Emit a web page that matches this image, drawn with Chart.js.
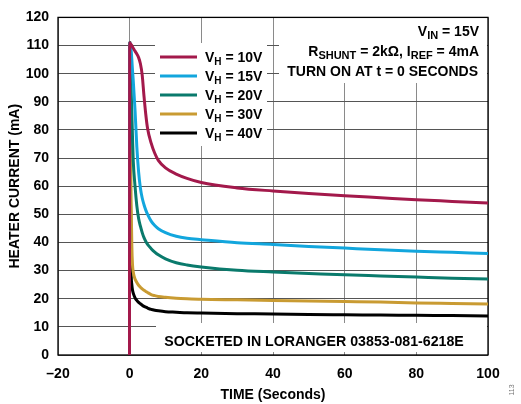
<!DOCTYPE html>
<html>
<head>
<meta charset="utf-8">
<script src="https://cdn.jsdelivr.net/npm/chart.js@4.4.1/dist/chart.umd.min.js"></script>
<style>
  html, body { margin: 0; padding: 0; background: #fff; }
  #wrap { position: relative; width: 521px; height: 404px; }
</style>
</head>
<body>
<div id="wrap"><canvas id="chart" width="521" height="404"></canvas></div>
<script>
// heater current vs time, one curve per heater voltage
const timeSec = [-0.05, 0, 0.2, 0.4, 0.6, 0.8, 1, 1.5, 2, 2.5, 3, 3.5, 4, 4.5, 5, 6, 7, 8, 10, 13, 16, 20, 30, 40, 50, 60, 70, 80, 90, 100];

const vh10 = [0, 111, 110.7, 110.3, 110, 109.5, 109, 108, 107, 105.7, 103.5, 99.5, 92, 85.5, 80.5, 75.3, 71.7, 69.2, 66.5, 64.3, 62.8, 61.3, 59.4, 58.3, 57.4, 56.6, 55.9, 55.2, 54.6, 54];
const vh15 = [0, 111, 110.5, 108.5, 105, 101, 97.5, 87, 74, 65, 59.3, 55.8, 53.4, 51.5, 50, 47.6, 46, 44.9, 43.5, 42.2, 41.5, 41, 39.9, 39.3, 38.6, 38, 37.4, 36.9, 36.5, 36.1];
const vh20 = [0, 111, 104, 95, 86, 77, 69, 60, 53, 48.5, 45.8, 43.5, 41.7, 40.4, 39.3, 37.8, 36.6, 35.6, 34.2, 32.8, 32, 31.3, 30.1, 29.5, 29, 28.5, 28.1, 27.7, 27.3, 27];
const vh30 = [0, 111, 85, 55, 39, 32, 29.5, 27, 25.8, 24.8, 24.1, 23.5, 23, 22.6, 22.2, 21.5, 21.1, 20.8, 20.5, 20.2, 20, 19.8, 19.6, 19.4, 19.2, 19, 18.8, 18.5, 18.3, 18.1];
const vh40 = [0, 111, 60, 30, 25, 23, 22, 20.3, 19.4, 18.7, 18.2, 17.7, 17.3, 17, 16.7, 16.2, 15.9, 15.7, 15.4, 15.2, 15, 14.9, 14.7, 14.6, 14.4, 14.3, 14.2, 14.1, 14, 13.9];

const seriesLabels = ['10V', '15V', '20V', '30V', '40V'];
const seriesColors = ['#a3194b', '#12a6dd', '#0a7a6c', '#c99b32', '#000000'];
const seriesValues = [vh10, vh15, vh20, vh30, vh40];

const xTicks = [-20, 0, 20, 40, 60, 80, 100];

const FONT = "'Liberation Sans', Arial, sans-serif";

// draw text with subscripts, parts: [[text, isSub], ...]
function subText(ctx, x, y, parts, align, subSize) {
    subSize = subSize || 10;
    let total = 0;
    parts.forEach(p => {
        ctx.font = 'bold ' + (p[1] ? subSize : 14) + 'px ' + FONT;
        total += ctx.measureText(p[0]).width;
    });
    let cx = align === 'right' ? x - total : x;
    parts.forEach(p => {
        ctx.font = 'bold ' + (p[1] ? subSize : 14) + 'px ' + FONT;
        ctx.fillText(p[0], cx, p[1] ? y + 4 : y);
        cx += ctx.measureText(p[0]).width;
    });
}

const overlayPlugin = {
    id: 'overlay',
    beforeDatasetsDraw(chart) {
        const ctx = chart.ctx;
        const a = chart.chartArea;
        ctx.save();
        // white boxes hiding the grid
        ctx.fillStyle = '#fff';
        ctx.fillRect(155, 43, 112, 103);
        ctx.fillRect(279, 18, a.right - 279 - 1, 65);
        ctx.fillRect(156, 323, a.right - 156 - 1, 29);

        // frame
        ctx.strokeStyle = '#000';
        ctx.lineWidth = 1.3;
        ctx.strokeRect(a.left, a.top, a.right - a.left, a.bottom - a.top);

        ctx.fillStyle = '#000';
        ctx.textBaseline = 'middle';

        // legend
        seriesLabels.forEach((lab, i) => {
            const y = 57 + i * 19;
            ctx.strokeStyle = seriesColors[i];
            ctx.lineWidth = 3;
            ctx.beginPath();
            ctx.moveTo(160, y);
            ctx.lineTo(197, y);
            ctx.stroke();
            ctx.fillStyle = '#000';
            subText(ctx, 205, y + 1, [['V', false], ['H', true], [' = ' + lab, false]]);
        });

        // conditions, right aligned
        const rx = 479;
        subText(ctx, rx, 32, [['V', false], ['IN', true], [' = 15V', false]], 'right', 11);
        subText(ctx, rx, 52, [['R', false], ['SHUNT', true], [' = 2k\u03A9, I', false], ['REF', true], [' = 4mA', false]], 'right', 11);
        ctx.font = 'bold 14px ' + FONT;
        ctx.textAlign = 'right';
        ctx.fillText('TURN ON AT t = 0 SECONDS', rx - 1, 72);

        ctx.textAlign = 'center';
        ctx.font = 'bold 14.2px ' + FONT;
        ctx.fillText('SOCKETED IN LORANGER 03853-081-6218E', 314, 342);
        ctx.restore();
    },
    afterDraw(chart) {
        const ctx = chart.ctx;
        ctx.save();
        ctx.translate(512, 390);
        ctx.rotate(-Math.PI / 2);
        ctx.font = '7px ' + FONT;
        ctx.fillStyle = '#777';
        ctx.textAlign = 'center';
        ctx.textBaseline = 'middle';
        ctx.fillText('113', 0, 0);
        ctx.restore();
    }
};

const datasets = seriesValues.map((vals, idx) => ({
    label: 'VH = ' + seriesLabels[idx],
    data: timeSec.map((t, j) => ({ x: t, y: vals[j] })),
    borderColor: seriesColors[idx],
    backgroundColor: seriesColors[idx],
    borderWidth: 3,
    pointRadius: 0,
    cubicInterpolationMode: 'monotone',
    fill: false
}));

new Chart(document.getElementById('chart'), {
    type: 'line',
    data: { datasets },
    options: {
        responsive: false,
        animation: false,
        layout: { padding: { left: 0, top: 12, right: 33, bottom: 0 } },
        plugins: {
            legend: { display: false },
            tooltip: { enabled: false }
        },
        scales: {
            x: {
                type: 'linear',
                min: -20,
                max: 100,
                afterBuildTicks: scale => { scale.ticks = xTicks.map(v => ({ value: v })); },
                afterFit: scale => { scale.height = 49; },
                grid: { color: '#8a8a8a', lineWidth: 1, drawTicks: false },
                border: { display: false },
                ticks: {
                    color: '#000',
                    padding: 11,
                    font: { family: FONT, size: 14, weight: 'bold' },
                    callback: v => (v < 0 ? '\u2013' + Math.abs(v) : String(v))
                },
                title: {
                    display: true,
                    text: 'TIME (Seconds)',
                    color: '#000',
                    font: { family: FONT, size: 14, weight: 'bold' },
                    padding: { top: 4, bottom: 0 }
                }
            },
            y: {
                min: 0,
                max: 120,
                afterFit: scale => { scale.width = 58; },
                grid: { color: '#555', lineWidth: 1, drawTicks: false },
                border: { display: false },
                ticks: {
                    stepSize: 10,
                    color: '#000',
                    padding: 9,
                    font: { family: FONT, size: 14, weight: 'bold' }
                },
                title: {
                    display: true,
                    text: 'HEATER CURRENT (mA)',
                    color: '#000',
                    font: { family: FONT, size: 14, weight: 'bold' },
                    padding: { top: 7, bottom: 0 }
                }
            }
        }
    },
    plugins: [overlayPlugin]
});
</script>
</body>
</html>
